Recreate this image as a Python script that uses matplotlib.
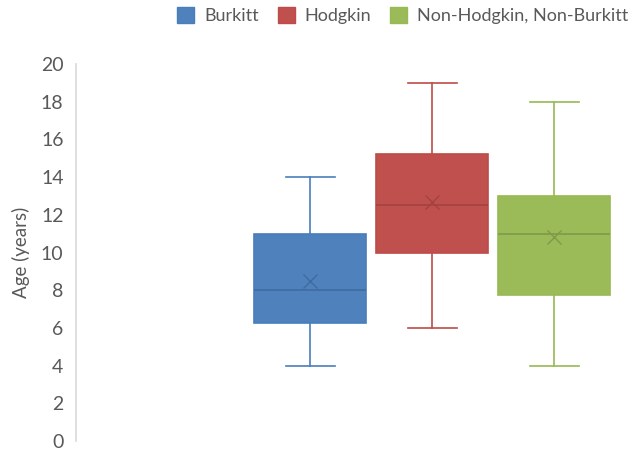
import matplotlib.pyplot as plt
from matplotlib.patches import Patch

plt.rcParams['font.family'] = ['Lato', 'DejaVu Sans']

# data
groups = ['Burkitt', 'Hodgkin', 'Non-Hodgkin, Non-Burkitt']
whis_lo = [4, 6, 4]
q1 = [6.25, 10, 7.75]
medians = [8, 12.5, 11]
q3 = [11, 15.25, 13]
whis_hi = [14, 19, 18]
means = [8.5, 12.7, 10.8]
yticks = list(range(0, 21, 2))

fills = ['#4F81BD', '#C0504D', '#9BBB59']
edges = ['#4A7EBB', '#BE4B48', '#98B954']
darks = ['#3F6C9E', '#A24340', '#7F9A48']
grey = '#595959'

fig = plt.figure(figsize=(6.34, 4.54), dpi=100)
ax = fig.add_axes([76/634, 13/454, 549/634, 377/454])

for i, g in enumerate(groups):
    st = [dict(label=g, whislo=whis_lo[i], q1=q1[i], med=medians[i],
               q3=q3[i], whishi=whis_hi[i], mean=means[i], fliers=[])]
    ax.bxp(st, positions=[i], widths=0.918, patch_artist=True,
           showmeans=True, manage_ticks=False,
           boxprops=dict(facecolor=fills[i], edgecolor=edges[i], linewidth=1.2),
           medianprops=dict(color=darks[i], linewidth=1.2),
           whiskerprops=dict(color=edges[i], linewidth=1.2),
           capprops=dict(color=edges[i], linewidth=1.2),
           meanprops=dict(marker='x', markersize=9.5, markeredgecolor=darks[i],
                          markeredgewidth=1.0),
           capwidths=0.4)

ax.set_xlim(-1.918, 2.58)
ax.set_ylim(0, 20)
ax.set_yticks(yticks)
ax.set_xticks([])
ax.tick_params(axis='y', length=0, pad=9, labelsize=14, labelcolor=grey)
for s in ['top', 'right', 'bottom']:
    ax.spines[s].set_visible(False)
ax.spines['left'].set_color('#D9D9D9')
ax.spines['left'].set_linewidth(1.2)
ax.set_ylabel('Age (years)', fontsize=13.5, color=grey, labelpad=8)

handles = [Patch(facecolor=fills[i], edgecolor=edges[i], label=groups[i]) for i in range(3)]
fig.legend(handles=handles, loc='upper right', bbox_to_anchor=(1.017, 1.02), ncol=3,
           frameon=False, fontsize=13, labelcolor=grey, handlelength=0.95,
           handleheight=0.95, handletextpad=0.55, columnspacing=1.05)

fig.savefig('out.png', dpi=100)
